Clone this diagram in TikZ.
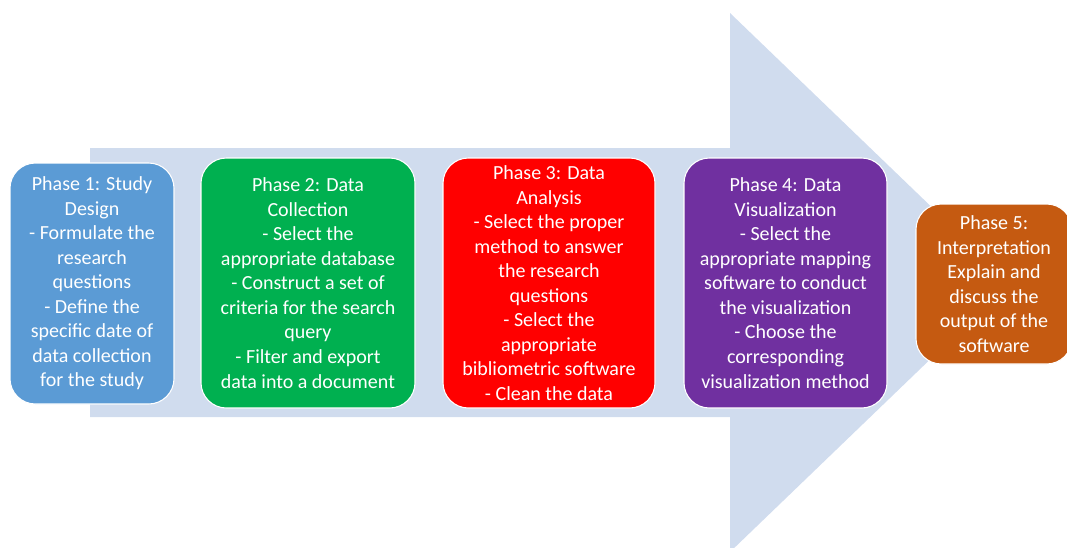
\documentclass[tikz,border=0pt]{standalone}
\usepackage{fontspec}
\setmainfont{Carlito}
\definecolor{arrowbg}{HTML}{D0DCEE}
\definecolor{pblue}{HTML}{5B9BD5}
\definecolor{pgreen}{HTML}{00B050}
\definecolor{pred}{HTML}{FF0000}
\definecolor{ppurple}{HTML}{7030A0}
\definecolor{porange}{HTML}{C55A11}
\tikzset{
  phase/.style={rectangle, rounded corners=19pt, draw=white, line width=0.8pt,
    text=white, align=center, inner sep=0pt,
    font=\fontsize{15pt}{18.4pt}\selectfont}
}
\begin{document}
\begin{tikzpicture}[x=0.75pt,y=-0.75pt]
\useasboundingbox (0,0) rectangle (1067,547);
\begin{scope}
\clip (0,0) rectangle (1067,547);
\fill[arrowbg] (90,148) -- (730,148) -- (730,13) -- (1010,282.5) -- (730,552) -- (730,417) -- (90,417) -- cycle;
\end{scope}
\node[phase, fill=pblue, minimum width=164*0.75pt, minimum height=241*0.75pt] (p1) at (92,283.5)
 {Phase 1: Study\\Design\\- Formulate the\\research\\questions\\- Define the\\specific date of\\data collection\\for the study};
\node[phase, fill=pgreen, minimum width=214*0.75pt, minimum height=250*0.75pt] (p2) at (308,283)
 {Phase 2: Data\\Collection\\- Select the\\appropriate database\\- Construct a set of\\criteria for the search\\query\\- Filter and export\\data into a document};
\node[phase, fill=pred, minimum width=212*0.75pt, minimum height=250*0.75pt] (p3) at (549,283)
 {Phase 3: Data\\Analysis\\- Select the proper\\method to answer\\the research\\questions\\- Select the\\appropriate\\bibliometric software\\- Clean the data};
\node[phase, fill=ppurple, minimum width=203*0.75pt, minimum height=250*0.75pt] (p4) at (785.5,283)
 {Phase 4: Data\\Visualization\\- Select the\\appropriate mapping\\software to conduct\\the visualization\\- Choose the\\corresponding\\visualization method};
\node[phase, fill=porange, minimum width=156*0.75pt, minimum height=160*0.75pt] (p5) at (994,284)
 {Phase 5:\\Interpretation\\Explain and\\discuss the\\output of the\\software};
\end{tikzpicture}
\end{document}
